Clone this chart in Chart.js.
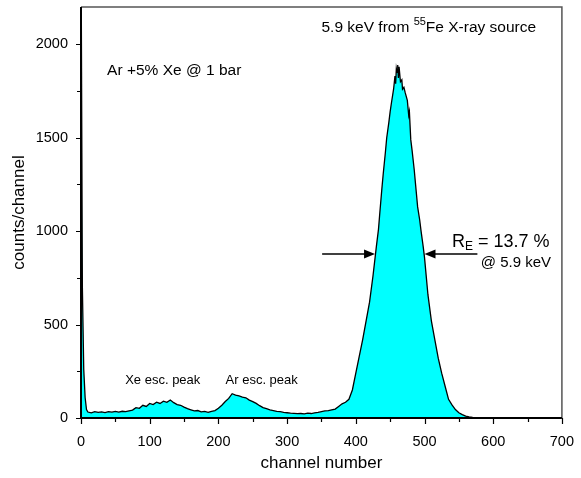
<!DOCTYPE html>
<html>
<head>
<meta charset="utf-8">
<script src="https://cdn.jsdelivr.net/npm/chart.js@4.4.1/dist/chart.umd.min.js"></script>
<style>
  html, body { margin: 0; padding: 0; background: #fff; }
  canvas { display: block; }
</style>
</head>
<body>
<canvas id="spectrum" width="581" height="478"></canvas>
<script>
// channel numbers and counts
var channel = [0,2,4,6,8,10,15,20,25,30,35,40,45,50,55,60,65,70,75,80,85,90,95,100,
  105,110,115,120,125,130,135,140,145,150,155,160,165,170,175,180,185,190,195,200,
  205,210,215,220,225,230,235,240,245,250,255,260,265,270,275,280,285,290,295,300,
  305,310,315,320,325,330,335,340,345,350,355,360,365,370,375,380,385,390,395,400,
  405,410,415,420,425,430,433,435,438,440,443,445,448,450,452,455,457,458,459,460,
  461,462,463,465,467,468,470,472,475,477,478,480,482,485,487,490,493,495,498,500,
  505,510,515,520,525,530,535,540,545,550,555,560,565,570,575,580,590,600,620,640,
  660,680,700];
var counts = [2600,700,260,110,45,32,28,34,30,33,29,34,31,35,32,36,34,38,42,55,52,68,62,78,
  72,85,78,90,84,96,82,72,68,58,50,44,38,40,33,35,30,36,40,52,
  68,88,105,130,122,118,112,108,96,88,78,66,56,50,44,40,36,34,30,28,
  26,25,23,24,22,26,24,28,30,34,38,40,44,48,62,76,84,100,150,240,
  330,420,520,620,760,920,1010,1100,1230,1310,1420,1500,1580,1640,1690,1760,1830,1790,1870,1850,
  1890,1820,1880,1800,1810,1760,1770,1740,1700,1620,1640,1490,1430,1330,1250,1130,1060,1000,920,860,
  660,520,420,320,240,170,100,70,45,28,18,10,6,3,2,1,1,0,1,0,
  0,0,0];

var xTicks = [0,50,100,150,200,250,300,350,400,450,500,550,600,650,700];
var xTickLabels = [0,100,200,300,400,500,600,700];
var yTicks = [0,250,500,750,1000,1250,1500,1750,2000];
var yTickLabels = [0,500,1000,1500,2000];

var FONT = '"Liberation Sans", Arial, sans-serif';

var decor = {
  id: 'decor',
  afterDraw: function(chart) {
    var c = chart.ctx, a = chart.chartArea;
    var xs = chart.scales.x, ys = chart.scales.y;
    c.save();
    // frame
    c.strokeStyle = '#555';
    c.lineWidth = 1.5;
    c.beginPath();
    c.moveTo(a.left, a.top); c.lineTo(a.right, a.top); c.lineTo(a.right, a.bottom);
    c.stroke();
    c.strokeStyle = '#000';
    c.lineWidth = 2;
    c.beginPath();
    c.moveTo(a.left, a.top); c.lineTo(a.left, a.bottom); c.lineTo(a.right, a.bottom);
    c.stroke();
    // ticks
    c.lineWidth = 1.2;
    c.beginPath();
    xTicks.forEach(function(v) {
      var px = Math.round(xs.getPixelForValue(v)) + 0.5;
      var len = xTickLabels.indexOf(v) >= 0 ? 6 : 4;
      c.moveTo(px, a.bottom); c.lineTo(px, a.bottom + len);
    });
    yTicks.forEach(function(v) {
      var py = Math.round(ys.getPixelForValue(v)) + 0.5;
      var len = yTickLabels.indexOf(v) >= 0 ? 5 : 4;
      c.moveTo(a.left, py); c.lineTo(a.left - len, py);
    });
    c.stroke();

    function X(v) { return xs.getPixelForValue(v); }
    function Y(v) { return ys.getPixelForValue(v); }

    c.fillStyle = '#000';
    c.textBaseline = 'middle';
    c.textAlign = 'left';
    c.font = '15.5px ' + FONT;
    c.fillText('Ar +5% Xe @ 1 bar', X(38), Y(1857));

    // 5.9 keV from 55Fe X-ray source
    var tx = X(350), ty = Y(2087);
    var t1 = '5.9 keV from ';
    c.fillText(t1, tx, ty);
    tx += c.measureText(t1).width;
    c.font = '11px ' + FONT;
    c.fillText('55', tx, ty - 6);
    tx += c.measureText('55').width;
    c.font = '15.5px ' + FONT;
    c.fillText('Fe X-ray source', tx, ty);

    c.textAlign = 'center';
    c.font = '13px ' + FONT;
    c.fillText('Xe esc. peak', X(119), Y(203));
    c.fillText('Ar esc. peak', X(263), Y(203));

    // R_E label
    c.textAlign = 'left';
    var rx = X(540), ry = Y(942);
    c.font = '18px ' + FONT;
    c.fillText('R', rx, ry);
    rx += c.measureText('R').width;
    c.font = '12px ' + FONT;
    c.fillText('E', rx, ry + 5);
    rx += c.measureText('E').width;
    c.font = '18px ' + FONT;
    c.fillText(' = 13.7 %', rx, ry);
    c.font = '15px ' + FONT;
    c.fillText('@ 5.9 keV', X(582), Y(830));

    // FWHM arrows
    function arrow(x0, x1, y) {
      var dir = x1 > x0 ? 1 : -1;
      c.lineWidth = 1.5;
      c.beginPath();
      c.moveTo(x0, y); c.lineTo(x1 - dir * 8, y);
      c.stroke();
      c.beginPath();
      c.moveTo(x1, y);
      c.lineTo(x1 - dir * 11, y - 4.5);
      c.lineTo(x1 - dir * 11, y + 4.5);
      c.closePath();
      c.fill();
    }
    arrow(X(351), X(428), Y(878));
    arrow(X(577), X(500), Y(878));
    c.restore();
  }
};

var points = channel.map(function(ch, i) { return { x: ch, y: counts[i] }; });

var ctx = document.getElementById('spectrum');
var spectrumChart = new Chart(ctx, {
  type: 'line',
  data: {
    datasets: [{
      data: points,
      borderColor: '#000',
      borderWidth: 1.3,
      backgroundColor: '#00ffff',
      fill: 'origin',
      pointRadius: 0,
      tension: 0
    }]
  },
  options: {
    responsive: false,
    animation: false,
    devicePixelRatio: 1,
    layout: { padding: { left: 0, top: 7, right: 10, bottom: 0 } },
    plugins: { legend: { display: false }, tooltip: { enabled: false } },
    scales: {
      x: {
        type: 'linear',
        min: 0, max: 700,
        afterBuildTicks: function(s) { s.ticks = xTicks.map(function(v) { return { value: v }; }); },
        afterFit: function(s) { s.height = 60; },
        grid: { display: false },
        border: { display: false },
        ticks: {
          color: '#000', padding: 7, maxRotation: 0, autoSkip: false,
          font: { family: FONT, size: 14.5 },
          callback: function(v) { return xTickLabels.indexOf(v) >= 0 ? String(v) : ''; }
        },
        title: {
          display: true, text: 'channel number', color: '#000',
          font: { family: FONT, size: 17 }, padding: { top: 0, bottom: 4 }
        }
      },
      y: {
        type: 'linear',
        min: 0, max: 2200,
        afterBuildTicks: function(s) { s.ticks = yTicks.map(function(v) { return { value: v }; }); },
        afterFit: function(s) { s.width = 81; s.paddingTop = 0; },
        grid: { display: false },
        border: { display: false },
        ticks: {
          color: '#000', padding: 5, autoSkip: false,
          font: { family: FONT, size: 14.5 },
          callback: function(v) { return yTickLabels.indexOf(v) >= 0 ? String(v) : ''; }
        },
        title: {
          display: true, text: 'counts/channel', color: '#000',
          font: { family: FONT, size: 17 }, padding: { top: 9, bottom: 0 }
        }
      }
    }
  },
  plugins: [decor]
});
</script>
</body>
</html>
